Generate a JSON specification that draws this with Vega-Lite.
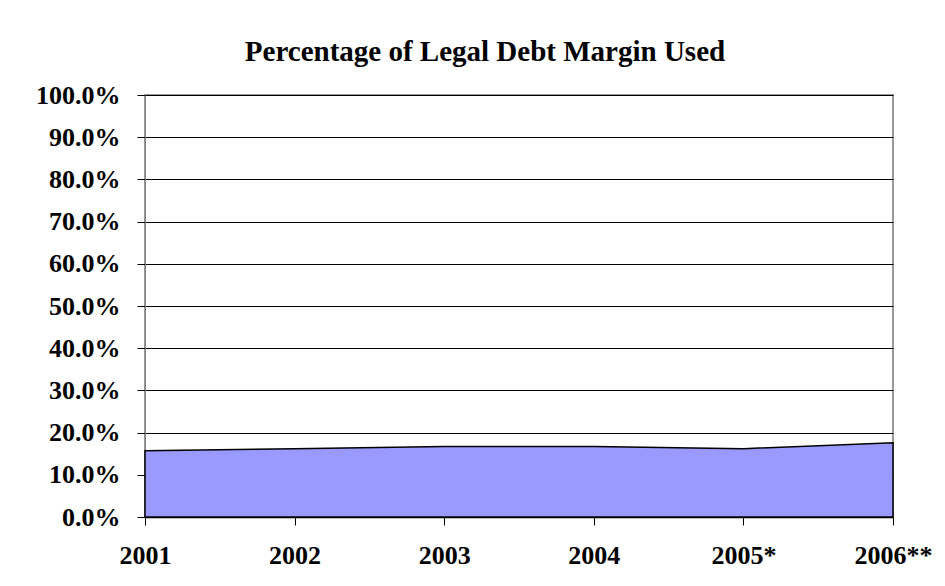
{
  "$schema": "https://vega.github.io/schema/vega-lite/v6.json",
  "autosize": {"type": "none"},
  "width": 748,
  "height": 422,
  "padding": {"left": 145, "top": 95, "right": 52, "bottom": 69},
  "background": "white",
  "title": {
    "text": "Percentage of Legal Debt Margin Used",
    "font": "Liberation Serif",
    "fontSize": 29,
    "fontWeight": "bold",
    "color": "black",
    "anchor": "middle",
    "dx": -34,
    "offset": 15
  },
  "data": {
    "values": [
      {"year": "2001", "pct": 0.157},
      {"year": "2002", "pct": 0.162},
      {"year": "2003", "pct": 0.167},
      {"year": "2004", "pct": 0.167},
      {"year": "2005*", "pct": 0.162},
      {"year": "2006**", "pct": 0.176}
    ]
  },
  "mark": {"type": "area", "color": "#9999FF", "stroke": "black", "strokeWidth": 1.5, "opacity": 1},
  "encoding": {
    "x": {
      "field": "year",
      "type": "ordinal",
      "sort": null,
      "scale": {"type": "point", "padding": 0},
      "axis": {
        "title": null,
        "labelAngle": 0,
        "labelFont": "Liberation Serif",
        "labelFontSize": 26,
        "labelFontWeight": "bold",
        "labelColor": "black",
        "labelPadding": 17,
        "tickColor": "black",
        "tickSize": 8,
        "domainColor": "black",
        "domainWidth": 1.5,
        "grid": false
      }
    },
    "y": {
      "field": "pct",
      "type": "quantitative",
      "scale": {"domain": [0, 1]},
      "axis": {
        "title": null,
        "format": ".1%",
        "values": [0, 0.1, 0.2, 0.3, 0.4, 0.5, 0.6, 0.7, 0.8, 0.9, 1.0],
        "labelFont": "Liberation Serif",
        "labelFontSize": 26,
        "labelFontWeight": "bold",
        "labelColor": "black",
        "labelPadding": 17,
        "tickColor": "black",
        "tickSize": 8,
        "domainColor": "#808080",
        "grid": true,
        "gridColor": "black",
        "gridWidth": 1
      }
    }
  },
  "config": {
    "view": {"stroke": "#999999", "strokeWidth": 2}
  }
}
